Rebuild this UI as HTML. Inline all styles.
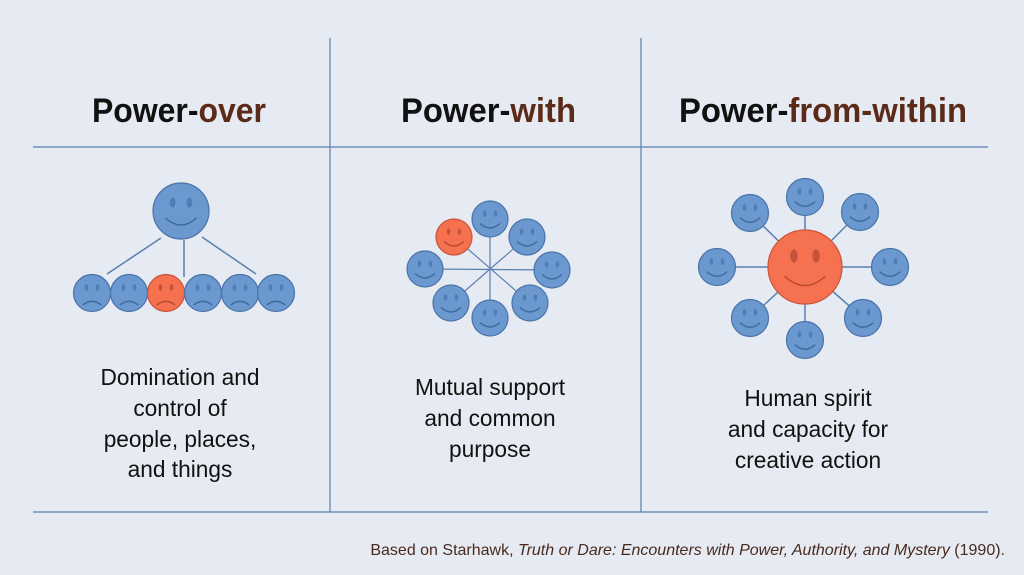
<!DOCTYPE html>
<html><head><meta charset="utf-8"><style>
html,body{margin:0;padding:0}
body{width:1024px;height:575px;overflow:hidden;background:#e6eaf2;font-family:"Liberation Sans",sans-serif}
svg{display:block}
</style></head><body>
<svg width="1024" height="575" viewBox="0 0 1024 575" xmlns="http://www.w3.org/2000/svg">
<defs>
<g id="sm"><circle r="1" fill="#6a98cf" stroke="#4a74a8" stroke-width="1.2" vector-effect="non-scaling-stroke"/><ellipse cx="-0.3" cy="-0.3" rx="0.1" ry="0.18" fill="#4f7db5"/><ellipse cx="0.3" cy="-0.3" rx="0.1" ry="0.18" fill="#4f7db5"/><path d="M-0.55,0.25 Q0,0.75 0.55,0.25" fill="none" stroke="#3e6aa0" stroke-width="1.5" vector-effect="non-scaling-stroke"/></g>
<g id="smr"><circle r="1" fill="#f6714f" stroke="#c9553c" stroke-width="1.2" vector-effect="non-scaling-stroke"/><ellipse cx="-0.3" cy="-0.3" rx="0.1" ry="0.18" fill="#c4533b"/><ellipse cx="0.3" cy="-0.3" rx="0.1" ry="0.18" fill="#c4533b"/><path d="M-0.55,0.25 Q0,0.75 0.55,0.25" fill="none" stroke="#b84a33" stroke-width="1.5" vector-effect="non-scaling-stroke"/></g>
<g id="fr"><circle r="1" fill="#6a98cf" stroke="#4a74a8" stroke-width="1.2" vector-effect="non-scaling-stroke"/><ellipse cx="-0.3" cy="-0.3" rx="0.1" ry="0.18" fill="#4f7db5"/><ellipse cx="0.3" cy="-0.3" rx="0.1" ry="0.18" fill="#4f7db5"/><path d="M-0.5,0.65 Q0,0.25 0.5,0.65" fill="none" stroke="#3e6aa0" stroke-width="1.5" vector-effect="non-scaling-stroke"/></g>
<g id="frr"><circle r="1" fill="#f6714f" stroke="#c9553c" stroke-width="1.2" vector-effect="non-scaling-stroke"/><ellipse cx="-0.3" cy="-0.3" rx="0.1" ry="0.18" fill="#c4533b"/><ellipse cx="0.3" cy="-0.3" rx="0.1" ry="0.18" fill="#c4533b"/><path d="M-0.5,0.65 Q0,0.25 0.5,0.65" fill="none" stroke="#b84a33" stroke-width="1.5" vector-effect="non-scaling-stroke"/></g>
</defs>
<g stroke="#5a7fb0" stroke-width="1.2">
<line x1="330" y1="38" x2="330" y2="512"/><line x1="641" y1="38" x2="641" y2="512"/>
<line x1="33" y1="147" x2="988" y2="147"/><line x1="33" y1="512" x2="988" y2="512"/>
</g>
<g font-weight="bold" font-size="34" fill="#111">
<text x="92" y="122" textLength="174" lengthAdjust="spacingAndGlyphs">Power-<tspan fill="#5c2a18">over</tspan></text>
<text x="401" y="122" textLength="175" lengthAdjust="spacingAndGlyphs">Power-<tspan fill="#5c2a18">with</tspan></text>
<text x="679" y="122" textLength="288" lengthAdjust="spacingAndGlyphs">Power-<tspan fill="#5c2a18">from-within</tspan></text>
</g>
<g font-size="22.7" text-anchor="middle" fill="#111">
<text x="180" y="385">Domination and</text><text x="180" y="416">control of</text><text x="180" y="447">people, places,</text><text x="180" y="477">and things</text>
<text x="490" y="395">Mutual support</text><text x="490" y="426">and common</text><text x="490" y="457">purpose</text>
<text x="808" y="406">Human spirit</text><text x="808" y="437">and capacity for</text><text x="808" y="468">creative action</text>
</g>
<text x="1005" y="555" font-size="16" text-anchor="end" fill="#4a2a1e">Based on Starhawk, <tspan font-style="italic">Truth or Dare: Encounters with Power, Authority, and Mystery</tspan> (1990).</text>
<!-- left -->
<g stroke="#5a7fb0" stroke-width="1.5"><line x1="161" y1="238" x2="107" y2="274"/><line x1="184" y1="240" x2="184" y2="277"/><line x1="202" y1="237" x2="256" y2="274"/></g>
<use href="#sm" transform="translate(181,211) scale(28)"/>
<use href="#fr" transform="translate(92,293) scale(18.5)"/>
<use href="#fr" transform="translate(129,293) scale(18.5)"/>
<use href="#frr" transform="translate(166,293) scale(18.5)"/>
<use href="#fr" transform="translate(203,293) scale(18.5)"/>
<use href="#fr" transform="translate(240,293) scale(18.5)"/>
<use href="#fr" transform="translate(276,293) scale(18.5)"/>
<!-- middle -->
<g stroke="#5a7fb0" stroke-width="1.2">
<line x1="490" y1="219" x2="490" y2="318"/><line x1="425" y1="269" x2="552" y2="270"/><line x1="454" y1="237" x2="530" y2="303"/><line x1="527" y1="237" x2="451" y2="303"/>
</g>
<use href="#sm" transform="translate(490,219) scale(18)"/>
<use href="#sm" transform="translate(527,237) scale(18)"/>
<use href="#sm" transform="translate(552,270) scale(18)"/>
<use href="#sm" transform="translate(530,303) scale(18)"/>
<use href="#sm" transform="translate(490,318) scale(18)"/>
<use href="#sm" transform="translate(451,303) scale(18)"/>
<use href="#sm" transform="translate(425,269) scale(18)"/>
<use href="#smr" transform="translate(454,237) scale(18)"/>
<!-- right -->
<g stroke="#5a7fb0" stroke-width="1.5">
<line x1="805" y1="267" x2="805" y2="197"/><line x1="805" y1="267" x2="750" y2="213"/><line x1="805" y1="267" x2="860" y2="212"/><line x1="805" y1="267" x2="717" y2="267"/><line x1="805" y1="267" x2="890" y2="267"/><line x1="805" y1="267" x2="750" y2="318"/><line x1="805" y1="267" x2="863" y2="318"/><line x1="805" y1="267" x2="805" y2="340"/>
</g>
<use href="#sm" transform="translate(805,197) scale(18.5)"/>
<use href="#sm" transform="translate(750,213) scale(18.5)"/>
<use href="#sm" transform="translate(860,212) scale(18.5)"/>
<use href="#sm" transform="translate(717,267) scale(18.5)"/>
<use href="#sm" transform="translate(890,267) scale(18.5)"/>
<use href="#sm" transform="translate(750,318) scale(18.5)"/>
<use href="#sm" transform="translate(863,318) scale(18.5)"/>
<use href="#sm" transform="translate(805,340) scale(18.5)"/>
<use href="#smr" transform="translate(805,267) scale(37)"/>
</svg>
</body></html>
